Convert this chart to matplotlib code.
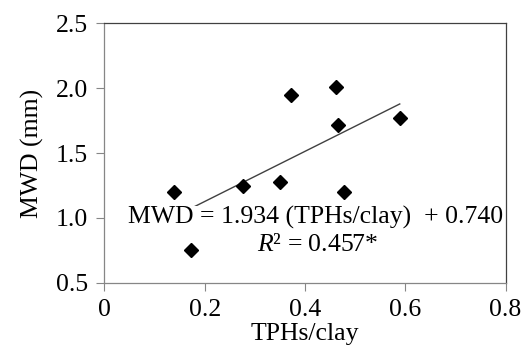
import matplotlib.pyplot as plt
import numpy as np

# data
tphs_clay = [0.139, 0.173, 0.277, 0.350, 0.373, 0.462, 0.465, 0.477, 0.589]
mwd = [1.20, 0.75, 1.245, 1.275, 1.95, 2.01, 1.715, 1.20, 1.77]
slope, intercept = 1.934, 0.740
xticks = [0, 0.2, 0.4, 0.6, 0.8]
xticklabels = ['0', '0.2', '0.4', '0.6', '0.8']
yticks = [0.5, 1.0, 1.5, 2.0, 2.5]
yticklabels = ['0.5', '1.0', '1.5', '2.0', '2.5']

plt.rcParams['font.family'] = ['Liberation Serif', 'DejaVu Serif']
plt.rcParams['mathtext.fontset'] = 'custom'
plt.rcParams['mathtext.it'] = 'Liberation Serif:italic'
plt.rcParams['mathtext.rm'] = 'Liberation Serif'

fig, ax = plt.subplots(figsize=(5.29, 3.58), dpi=100)
plt.subplots_adjust(left=0.1975, right=0.9556, top=0.9344, bottom=0.2103)

ax.plot(tphs_clay, mwd, 'D', color='black', markersize=6.8, zorder=3)

xl = np.array([min(tphs_clay), max(tphs_clay)])
ax.plot(xl, slope * xl + intercept, color='#404040', lw=1.0, zorder=1)

ax.set_xlim(0, 0.8)
ax.set_ylim(0.5, 2.5)
ax.set_xticks(xticks)
ax.set_xticklabels(xticklabels)
ax.set_yticks(yticks)
ax.set_yticklabels(yticklabels)
ax.tick_params(direction='out', length=6, width=0.8, color='#868686',
               labelsize=18.5, pad=6)
for s in ax.spines.values():
    s.set_color('#868686')
    s.set_linewidth(0.9)
ax.spines['right'].set_color('#404040')
ax.spines['top'].set_color('#404040')

ax.set_xlabel('TPHs/clay', fontsize=18.5, labelpad=1)
ax.set_ylabel('MWD (mm)', fontsize=18.5, labelpad=8)

ax.text(0.527, 0.253, 'MWD = 1.934 (TPHs/clay)  + 0.740', transform=ax.transAxes,
        ha='center', va='center', fontsize=18.5, zorder=2,
        bbox=dict(facecolor='white', edgecolor='none', pad=0.0))
ax.text(0.532, 0.146, r'$R$² = 0.457*', transform=ax.transAxes,
        ha='center', va='center', fontsize=18.5, zorder=2)

plt.gcf().savefig('out.png', dpi=100)
